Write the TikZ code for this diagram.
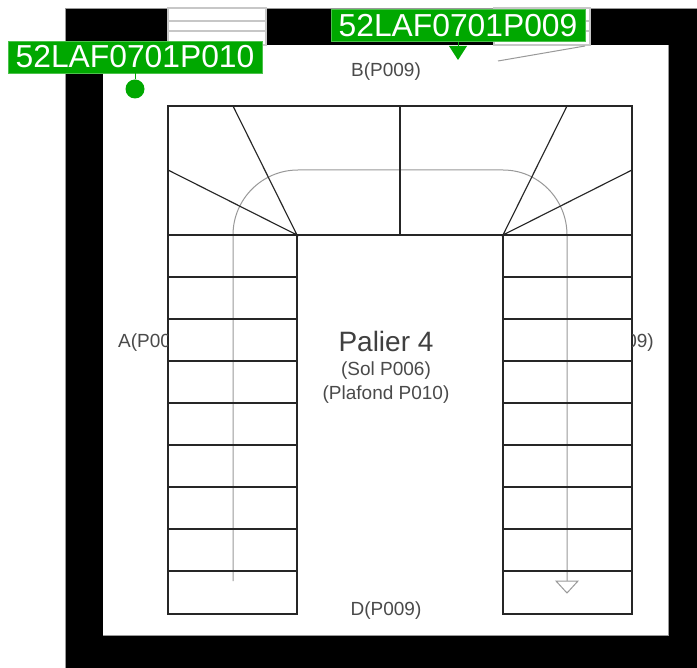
\documentclass[tikz,border=0pt]{standalone}
\usepackage{fontspec}
\setmainfont{Liberation Sans}
\definecolor{tagg}{HTML}{00A800}
\definecolor{lab}{HTML}{4A4A4A}
\tikzset{
 x=1pt,y=-1pt,
 wall/.style={fill=black,draw=black!40,line width=0.6pt},
 stair/.style={draw=black!85,line width=1.15pt},
 walkline/.style={draw=black!40,line width=1pt},
 winline/.style={draw=black!22,line width=1.1pt},
 tag/.style={fill=tagg,draw=tagg!70,line width=0.4pt,text=white,inner sep=0pt,minimum width=254pt,minimum height=32pt,font=\fontsize{31.8}{34}\selectfont},
 lab/.style={text=lab,inner sep=0pt,font=\fontsize{19}{21}\selectfont},
 big/.style={text=black!75,inner sep=0pt,font=\fontsize{28}{30}\selectfont},
}
\begin{document}
\begin{tikzpicture}
\useasboundingbox (0,0) rectangle (697,668);
\fill[black] (65,8) rectangle (697,668);
\draw[wall] (103,45) rectangle (668,635);
\fill[white] (103,45) rectangle (668,635);
\draw[black!40,line width=0.6pt] (65,668) -- (65,8) -- (697,8);
% windows
\filldraw[fill=white,winline] (168,8) rectangle (266,45);
\draw[winline] (168,21) -- (266,21) (168,31) -- (266,31);
\filldraw[fill=white,winline] (494,8) rectangle (590,45);
\draw[winline] (494,21) -- (590,21) (494,31) -- (590,31);
\draw[walkline] (498,61) -- (585,46);
% walking line
\draw[walkline] (233,581) -- (233,235) arc[start angle=180,end angle=90,x radius=65,y radius=-65] -- (503,170) arc[start angle=90,end angle=0,x radius=64,y radius=-65] -- (567,581);
\draw[walkline,fill=white] (556,581) -- (578,581) -- (567,593) -- cycle;
% stairs outline
\coordinate (TL) at (168,106); \coordinate (TR) at (632,106);
\coordinate (IL) at (297,235); \coordinate (IR) at (503,235);
\draw[stair] (168,235) rectangle (297,614);
\draw[stair] (503,235) rectangle (632,614);
\draw[stair] (168,235) -- (TL) -- (TR) -- (632,235);
\draw[stair] (297,235) -- (503,235);
\foreach \y in {277,319,361,403,445,487,529,571}{
  \draw[stair] (168,\y) -- (297,\y);
  \draw[stair] (503,\y) -- (632,\y);
}
\draw[stair] (233,106) -- (IL) -- (168,170);
\draw[stair] (567,106) -- (IR) -- (632,170);
\draw[stair] (400,106) -- (400,235);
% labels
\node[lab,anchor=center] (nb) at (386,72) {B(P009)};
\node[lab,anchor=center] (nd) at (386,611) {D(P009)};
\begin{scope}
\clip (103,300) rectangle (167.5,380);
\node[lab,anchor=west] (na) at (118,343) {A(P009)};
\end{scope}
\begin{scope}
\clip (632.5,300) rectangle (668,380);
\node[lab,anchor=east] (nc) at (654,343) {C(P009)};
\end{scope}
\node[big] (title) at (386,341) {Palier 4};
\node[lab] (sol) at (386,371) {(Sol P006)};
\node[lab] (plaf) at (386,395) {(Plafond P010)};
% tags
\node[tag] (t1) at (135,57) {52LAF0701P010};
\node[circle,fill=tagg,inner sep=0pt,minimum size=19pt] (d1) at (135,89) {};
\draw[tagg,line width=1pt] (t1.south) -- (d1);
\node[tag] (t2) at (458,25.5) {52LAF0701P009};
\coordinate (p2) at (458,60);
\fill[tagg] (449,46) -- (467,46) -- (p2) -- cycle;
\draw[tagg,line width=1pt] (t2.south) -- (458,47);
\end{tikzpicture}
\end{document}
